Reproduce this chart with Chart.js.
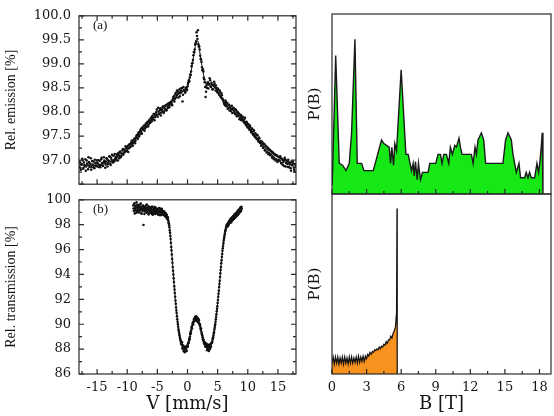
<!DOCTYPE html>
<html>
<head>
<meta charset="utf-8">
<script src="https://cdn.jsdelivr.net/npm/chart.js@4.4.0/dist/chart.umd.min.js"></script>
<style>
	body { margin: 0; background: #fff; }
	#wrap { position: relative; width: 554px; height: 416px; overflow: hidden; background: #fff; }
	#wrap canvas { position: absolute; }
</style>
</head>
<body>
<div id="wrap">
	<canvas id="chart-a" width="300" height="200" style="left:0;top:0;"></canvas>
	<canvas id="chart-b" width="300" height="232" style="left:0;top:184px;"></canvas>
	<canvas id="chart-c" width="254" height="200" style="left:300px;top:0;"></canvas>
	<canvas id="chart-d" width="254" height="232" style="left:300px;top:184px;"></canvas>
</div>
<script>
// (a) emission spectrum, two halves: channels from -18 and from -17.925 mm/s, 0.15 mm/s apart
const velStartA = -18;
const velStartA2 = -17.925;
const velStepA = 0.15;
const emissionA = [
	96.86, 96.95, 96.80, 96.92, 96.99, 96.84, 96.90, 97.02, 96.87, 96.93, 96.81, 96.96, 96.89, 97.04, 96.85, 96.91, 96.97, 96.83, 96.94, 96.88, 97.00,
	96.93, 96.86, 96.98, 96.90, 97.05, 96.89, 96.95, 96.99, 96.84, 96.97, 97.03, 96.92, 96.98, 97.07, 96.90, 97.01, 96.96, 97.09, 96.97, 97.03,
	97.05, 97.12, 96.99, 97.10, 97.16, 97.06, 97.14, 97.20, 97.11, 97.22, 97.17, 97.26, 97.19, 97.30, 97.24, 97.33, 97.28, 97.38, 97.31, 97.36,
	97.43, 97.35, 97.47, 97.52, 97.44, 97.58, 97.53, 97.62, 97.57, 97.68, 97.63, 97.72, 97.66, 97.76, 97.71, 97.80, 97.74, 97.84, 97.79, 97.86,
	97.92, 97.85, 97.95, 97.89, 97.98, 98.05, 97.90, 98.01, 97.96, 98.08, 97.99, 98.03, 98.12, 98.00, 98.07, 98.14, 98.04, 98.11, 98.18, 98.10,
	98.17, 98.22, 98.14, 98.28, 98.33, 98.27, 98.40, 98.35, 98.43, 98.30, 98.47, 98.39, 98.44, 98.50, 98.36, 98.46, 98.42, 98.49, 98.45, 98.53,
	98.62, 98.64, 98.78, 98.84, 99.01, 99.08, 99.25, 99.30, 99.43, 99.66, 99.52, 99.41, 99.36, 99.17, 99.09, 98.93, 98.89, 98.71, 98.62, 98.31,
	98.55, 98.60, 98.49, 98.58, 98.66, 98.52, 98.57, 98.48, 98.54, 98.59, 98.45, 98.50, 98.41, 98.47, 98.36, 98.42, 98.30, 98.35, 98.26, 98.21,
	98.18, 98.24, 98.12, 98.19, 98.08, 98.15, 98.10, 98.02, 98.13, 98.05, 98.09, 97.98, 98.06, 97.95, 98.01, 97.92, 97.97, 97.88, 97.94, 97.86,
	97.90, 97.81, 97.86, 97.76, 97.80, 97.70, 97.75, 97.66, 97.72, 97.61, 97.64, 97.55, 97.60, 97.50, 97.56, 97.46, 97.51, 97.42, 97.47, 97.37,
	97.40, 97.31, 97.36, 97.27, 97.33, 97.22, 97.29, 97.18, 97.25, 97.15, 97.21, 97.12, 97.18, 97.08, 97.14, 97.05, 97.11, 97.02, 97.09, 97.00,
	97.06, 96.98, 97.04, 96.93, 97.01, 96.96, 96.88, 97.02, 96.94, 96.99, 96.86, 96.95, 96.91, 96.83, 96.97, 96.89, 96.93, 96.80, 96.92, 96.86
];
const emissionA2 = [
	96.97, 96.84, 96.91, 97.03, 96.82, 96.95, 96.88, 96.78, 96.99, 96.92, 97.06, 96.86, 96.93, 96.80, 96.98, 96.90, 96.85, 97.01, 96.89, 96.95, 96.87,
	97.00, 96.90, 96.85, 97.02, 96.94, 96.88, 97.06, 96.96, 96.91, 97.04, 96.87, 96.99, 97.08, 96.93, 97.05, 97.11, 96.95, 97.00, 97.13, 97.07,
	97.00, 97.09, 97.15, 97.04, 97.18, 97.08, 97.13, 97.23, 97.15, 97.19, 97.29, 97.21, 97.26, 97.17, 97.32, 97.27, 97.35, 97.41, 97.30, 97.39,
	97.45, 97.40, 97.50, 97.46, 97.55, 97.49, 97.60, 97.65, 97.55, 97.66, 97.70, 97.61, 97.73, 97.69, 97.78, 97.70, 97.82, 97.77, 97.88, 97.81,
	97.89, 97.96, 97.83, 97.93, 98.00, 97.94, 98.09, 97.97, 98.04, 97.93, 98.06, 98.10, 97.98, 98.08, 98.13, 98.03, 98.16, 98.09, 98.14, 98.20,
	98.20, 98.16, 98.25, 98.31, 98.22, 98.37, 98.30, 98.45, 98.38, 98.41, 98.33, 98.49, 98.42, 98.22, 98.52, 98.44, 98.40, 98.51, 98.47, 98.58,
	98.66, 98.72, 98.77, 98.95, 99.02, 99.18, 99.24, 99.40, 99.47, 99.58, 99.70, 99.36, 99.30, 99.10, 99.04, 98.87, 98.84, 98.68, 98.52, 98.42,
	98.50, 98.62, 98.57, 98.70, 98.53, 98.61, 98.47, 98.56, 98.63, 98.51, 98.55, 98.44, 98.49, 98.38, 98.45, 98.33, 98.39, 98.28, 98.24, 98.17,
	98.14, 98.21, 98.17, 98.07, 98.14, 98.03, 98.11, 98.06, 97.98, 98.08, 98.01, 97.96, 98.04, 97.91, 97.99, 97.94, 97.85, 97.93, 97.83, 97.90,
	97.84, 97.78, 97.88, 97.73, 97.79, 97.68, 97.74, 97.63, 97.69, 97.58, 97.66, 97.53, 97.62, 97.48, 97.54, 97.44, 97.52, 97.39, 97.45, 97.35,
	97.30, 97.38, 97.25, 97.34, 97.20, 97.30, 97.16, 97.26, 97.12, 97.22, 97.10, 97.19, 97.05, 97.16, 97.02, 97.12, 96.99, 97.10, 96.96, 97.07,
	97.00, 97.08, 96.94, 97.03, 96.90, 96.99, 97.05, 96.87, 96.96, 96.92, 97.01, 96.85, 96.94, 96.78, 96.90, 96.97, 96.84, 96.76, 96.88
];
const fitVelA = [-18, -16, -14, -13, -12, -11, -10, -9, -8, -7, -6, -5, -4, -3, -2, -1.5, -1, -0.5, 0, 0.5, 1.0, 1.4, 1.7, 2.0, 2.4, 2.8, 3.2, 3.7, 4.3, 4.8, 5.3, 6, 6.5, 7.5, 8.5, 9.5, 10.5, 11.5, 12.5, 13.5, 14.5, 15.5, 16.5, 17.5, 18];
const fitA = [96.90, 96.89, 96.92, 96.96, 97.02, 97.10, 97.22, 97.36, 97.53, 97.70, 97.84, 97.94, 98.02, 98.12, 98.28, 98.37, 98.42, 98.46, 98.53, 98.78, 99.15, 99.42, 99.48, 99.28, 98.96, 98.70, 98.56, 98.57, 98.54, 98.47, 98.37, 98.22, 98.13, 98.04, 97.95, 97.81, 97.63, 97.46, 97.31, 97.20, 97.11, 97.04, 96.98, 96.93, 96.91];
const emissionTicks = [97.0, 97.5, 98.0, 98.5, 99.0, 99.5, 100.0];

// (b) transmission spectrum, two halves: channels from -9 and from -8.95 mm/s, 0.1 mm/s apart
const velStartB = -9;
const velStartB2 = -8.95;
const velStepB = 0.1;
const transmissionB = [
	99.55, 99.10, 99.72, 99.28, 99.40, 98.95, 99.60, 99.18, 99.45, 99.05,
	99.38, 99.62, 99.15, 99.30, 98.88, 99.50, 99.22, 97.98, 99.42, 99.08,
	99.25, 99.55, 98.95, 99.35, 99.12, 99.48, 98.90, 99.28, 99.40, 99.02,
	99.18, 98.85, 99.45, 99.05, 99.30, 98.92, 99.20, 99.38, 98.98, 99.12,
	98.90, 99.25, 98.80, 99.10, 99.32, 98.95, 99.05, 98.78, 99.15, 98.88,
	99.02, 98.85, 98.95, 98.70, 98.90, 98.75, 98.62, 98.50, 98.35, 98.10,
	97.80, 97.35, 96.85, 96.20, 95.60, 94.95, 94.30, 93.70, 93.05, 92.50,
	91.90, 91.35, 90.90, 90.40, 90.00, 89.60, 89.30, 89.05, 88.80, 88.60,
	88.40, 88.55, 88.15, 88.30, 87.95, 88.20, 87.80, 88.10, 87.90, 88.15,
	88.30, 88.45, 88.55, 88.85, 89.00, 89.35, 89.50, 89.80, 89.90, 90.15,
	90.20, 90.45, 90.30, 90.60, 90.40, 90.55, 90.35, 90.50, 90.20, 90.30,
	89.95, 89.85, 89.55, 89.40, 89.15, 88.95, 88.80, 88.60, 88.50, 88.35,
	88.40, 88.20, 88.30, 88.05, 88.35, 87.95, 88.25, 88.10, 88.40, 88.20,
	88.50, 88.60, 88.85, 89.10, 89.35, 89.70, 90.00, 90.40, 90.80, 91.25,
	91.70, 92.20, 92.70, 93.25, 93.80, 94.35, 94.90, 95.40, 95.90, 96.30,
	96.70, 97.00, 97.30, 97.55, 97.75, 97.95, 98.05, 97.90, 98.20, 98.10,
	98.35, 98.15, 98.50, 98.30, 98.60, 98.40, 98.70, 98.45, 98.80, 98.55,
	98.85, 98.65, 99.00, 98.75, 99.10, 98.90, 99.25, 99.00, 99.40, 99.15, 99.30
];
const transmissionB2 = [
	99.30, 99.65, 98.90, 99.48, 99.15, 99.80, 99.02, 99.35, 99.58, 98.98,
	99.20, 99.45, 99.70, 98.92, 99.33, 99.10, 99.55, 99.25, 98.85, 99.40,
	99.05, 99.30, 99.62, 99.00, 99.22, 98.82, 99.38, 99.12, 98.95, 99.30,
	99.45, 99.00, 98.80, 99.25, 99.10, 99.42, 98.85, 99.05, 99.28, 98.92,
	99.15, 98.82, 99.35, 98.98, 98.75, 99.20, 99.00, 99.28, 98.85, 99.10,
	98.78, 99.05, 98.70, 98.92, 98.58, 98.80, 98.45, 98.60, 98.20, 97.95,
	97.55, 97.10, 96.55, 95.95, 95.25, 94.60, 94.00, 93.40, 92.80, 92.20,
	91.65, 91.10, 90.65, 90.20, 89.80, 89.45, 89.15, 88.90, 88.70, 88.45,
	88.35, 88.05, 88.25, 87.85, 88.15, 87.75, 88.05, 88.20, 87.85, 88.30,
	88.20, 88.50, 88.70, 88.80, 89.20, 89.25, 89.70, 89.65, 90.05, 90.00,
	90.35, 90.25, 90.55, 90.35, 90.65, 90.25, 90.45, 90.15, 90.40, 90.05,
	90.00, 89.70, 89.65, 89.25, 89.10, 88.80, 88.70, 88.45, 88.55, 88.20,
	88.25, 88.45, 87.90, 88.20, 88.15, 87.85, 88.35, 88.00, 88.25, 88.45,
	88.55, 88.75, 88.95, 89.25, 89.55, 89.85, 90.20, 90.60, 91.05, 91.45,
	91.95, 92.45, 93.00, 93.50, 94.10, 94.60, 95.15, 95.65, 96.10, 96.50,
	96.85, 97.15, 97.45, 97.65, 97.85, 98.00, 97.85, 98.15, 98.00, 98.30,
	98.25, 98.45, 98.20, 98.55, 98.35, 98.65, 98.50, 98.80, 98.60, 98.90,
	98.70, 98.95, 98.80, 99.15, 98.85, 99.20, 99.05, 99.35, 99.10, 99.45
];
const fitVelB = [-9.0, -7, -5, -4, -3.5, -3.2, -3.0, -2.8, -2.6, -2.4, -2.2, -2.0, -1.8, -1.6, -1.4, -1.2, -1.0, -0.7, -0.4, -0.1, 0.2, 0.5, 0.8, 1.1, 1.4, 1.7, 2.0, 2.3, 2.6, 2.9, 3.2, 3.5, 3.8, 4.1, 4.4, 4.7, 5.0, 5.3, 5.6, 5.9, 6.2, 6.5, 7.0, 7.5, 8.0, 8.5, 9.0];
const fitB = [99.30, 99.18, 99.02, 98.95, 98.78, 98.40, 97.80, 96.80, 95.60, 94.35, 93.10, 91.95, 90.95, 90.05, 89.35, 88.85, 88.50, 88.15, 88.02, 88.10, 88.55, 89.25, 89.90, 90.30, 90.45, 90.35, 90.00, 89.45, 88.90, 88.50, 88.28, 88.20, 88.30, 88.65, 89.35, 90.40, 91.70, 93.25, 94.90, 96.30, 97.30, 97.90, 98.35, 98.60, 98.85, 99.05, 99.25];
const transmissionTicks = [86, 88, 90, 92, 94, 96, 98, 100];
const velTicks = [-15, -10, -5, 0, 5, 10, 15];

// field distributions P(B)
const bGreen = [0.02, 0.32, 0.63, 0.92, 1.21, 1.50, 1.70, 1.99, 2.19, 2.57, 2.77, 3.58, 4.30, 4.50, 4.96, 5.08, 5.19, 5.34, 5.45, 5.60, 6.00, 6.41, 6.61, 6.90, 7.04, 7.13, 7.24, 7.39, 7.50, 7.68, 7.85, 8.34, 8.48, 9.00, 9.20, 9.41, 9.55, 9.70, 9.93, 10.13, 10.27, 10.45, 10.65, 10.79, 11.02, 11.14, 11.28, 12.09, 12.24, 12.41, 12.53, 12.67, 12.96, 13.16, 13.33, 14.83, 15.06, 15.27, 15.56, 15.70, 15.99, 16.22, 16.36, 16.71, 16.85, 17.00, 17.14, 17.29, 17.58, 17.78, 17.92, 18.04, 18.15, 18.24, 18.30];
const pGreen = [0.05, 0.77, 0.17, 0.16, 0.13, 0.17, 0.34, 0.86, 0.17, 0.17, 0.13, 0.13, 0.30, 0.28, 0.26, 0.17, 0.26, 0.16, 0.28, 0.24, 0.69, 0.22, 0.22, 0.13, 0.17, 0.10, 0.18, 0.08, 0.17, 0.08, 0.12, 0.12, 0.17, 0.17, 0.22, 0.22, 0.17, 0.22, 0.22, 0.17, 0.26, 0.22, 0.27, 0.26, 0.31, 0.26, 0.22, 0.22, 0.17, 0.26, 0.22, 0.30, 0.34, 0.30, 0.17, 0.17, 0.30, 0.34, 0.30, 0.22, 0.12, 0.17, 0.09, 0.09, 0.12, 0.09, 0.12, 0.09, 0.09, 0.17, 0.12, 0.18, 0.26, 0.34, 0.0];
const bOrange = [0.0, 0.1, 0.2, 0.3, 0.4, 0.5, 0.6, 0.7, 0.8, 0.9, 1.0, 1.1, 1.2, 1.3, 1.4, 1.5, 1.6, 1.7, 1.8, 1.9, 2.0, 2.1, 2.2, 2.3, 2.4, 2.5, 2.6, 2.7, 2.8, 2.9, 3.0, 3.1, 3.2, 3.3, 3.4, 3.5, 3.6, 3.7, 3.8, 3.9, 4.0, 4.1, 4.2, 4.3, 4.4, 4.5, 4.6, 4.7, 4.8, 4.9, 5.0, 5.1, 5.2, 5.3, 5.4, 5.5, 5.6, 5.64, 5.66];
const pOrange = [0.06, 0.095, 0.055, 0.095, 0.06, 0.095, 0.055, 0.09, 0.06, 0.095, 0.055, 0.095, 0.06, 0.09, 0.055, 0.095, 0.06, 0.095, 0.06, 0.09, 0.065, 0.095, 0.06, 0.10, 0.065, 0.095, 0.07, 0.10, 0.07, 0.10, 0.085, 0.11, 0.10, 0.12, 0.11, 0.125, 0.12, 0.135, 0.13, 0.14, 0.135, 0.15, 0.14, 0.155, 0.15, 0.165, 0.16, 0.18, 0.17, 0.19, 0.19, 0.21, 0.20, 0.225, 0.24, 0.26, 0.34, 0.92, 0.0];
const fieldTicks = [0, 3, 6, 9, 12, 15, 18];

const inkColor = '#151515';
const tickFont = { family: 'DejaVu Serif', size: 13 };
const sideTitleFont = { family: 'Liberation Serif', size: 14 };

function toPoints(xs, ys) {
	return xs.map(function(x, i) { return { x: x, y: ys[i] }; });
}

function channelPoints(start, step, ys) {
	return ys.map(function(y, i) { return { x: start + i * step, y: y }; });
}

function fixedTicks(values) {
	return function(scale) {
		scale.ticks = values.map(function(v) { return { value: v }; });
	};
}

// frame around the plot area plus inward tick marks, and the panel tag
const frameTicks = {
	id: 'frameTicks',
	afterDraw: function(chart, args, opts) {
		const ctx = chart.ctx;
		const area = chart.chartArea;
		ctx.save();
		ctx.strokeStyle = '#2a2a2a';
		ctx.lineWidth = 1.2;
		ctx.beginPath();

		function marks(scale, major, minor, draw) {
			const first = Math.ceil(scale.min / minor - 1e-6);
			const last = Math.floor(scale.max / minor + 1e-6);
			for (let k = first; k <= last; k++) {
				const v = k * minor;
				const isMajor = Math.abs(v / major - Math.round(v / major)) < 1e-6;
				draw(scale.getPixelForValue(v), isMajor ? 5 : 3);
			}
		}

		(opts.xSides || []).forEach(function(side) {
			marks(chart.scales.x, opts.xMajor, opts.xMinor, function(p, len) {
				if (side === 'bottom') {
					ctx.moveTo(p, area.bottom); ctx.lineTo(p, area.bottom - len);
				} else {
					ctx.moveTo(p, area.top); ctx.lineTo(p, area.top + len);
				}
			});
		});
		(opts.ySides || []).forEach(function(side) {
			marks(chart.scales.y, opts.yMajor, opts.yMinor, function(p, len) {
				if (side === 'left') {
					ctx.moveTo(area.left, p); ctx.lineTo(area.left + len, p);
				} else {
					ctx.moveTo(area.right, p); ctx.lineTo(area.right - len, p);
				}
			});
		});
		ctx.stroke();
		ctx.strokeRect(area.left, area.top, area.right - area.left, area.bottom - area.top);

		if (opts.tag) {
			ctx.fillStyle = inkColor;
			ctx.font = '13px "Liberation Serif"';
			ctx.textBaseline = 'middle';
			ctx.fillText(opts.tag, area.left + 14, area.top + 10);
		}
		ctx.restore();
	}
};

function baseOptions(padding) {
	return {
		responsive: false,
		animation: false,
		events: [],
		layout: { padding: padding },
		plugins: { legend: { display: false }, tooltip: { enabled: false } }
	};
}

function dots(points) {
	return { data: points, backgroundColor: '#111', borderWidth: 0, pointRadius: 1.25 };
}

function fitLine(points) {
	return { data: points, showLine: true, borderColor: '#111', borderWidth: 1, pointRadius: 0, cubicInterpolationMode: 'monotone' };
}

document.addEventListener('DOMContentLoaded', function() {
	// (a) emission
	const optA = baseOptions({ top: 15, right: 3, bottom: 6, left: 0 });
	optA.plugins.frameTicks = { xSides: ['bottom', 'top'], xMajor: 5, xMinor: 2.5, ySides: ['left', 'right'], yMajor: 0.5, yMinor: 0.25, tag: '(a)' };
	optA.scales = {
		x: {
			type: 'linear', min: -18, max: 18,
			grid: { display: false }, border: { display: false },
			ticks: { display: false },
			afterFit: function(scale) { scale.height = 0; }
		},
		y: {
			min: 96.5, max: 100,
			grid: { display: false, drawTicks: false }, border: { display: false },
			afterBuildTicks: fixedTicks(emissionTicks),
			ticks: { font: tickFont, color: inkColor, padding: 8, autoSkip: false, callback: function(v) { return v.toFixed(1); } },
			title: { display: true, text: 'Rel. emission [%]', font: sideTitleFont, color: inkColor, padding: { top: 3, bottom: 0 } },
			afterFit: function(scale) { scale.width = 79; }
		}
	};
	new Chart(document.getElementById('chart-a'), {
		type: 'scatter',
		data: {
			datasets: [
				fitLine(toPoints(fitVelA, fitA)),
				dots(channelPoints(velStartA, velStepA, emissionA)),
				dots(channelPoints(velStartA2, velStepA, emissionA2))
			]
		},
		options: optA,
		plugins: [frameTicks]
	});

	// (b) transmission
	const optB = baseOptions({ top: 10, right: 3, bottom: 0, left: 0 });
	optB.plugins.frameTicks = { xSides: ['bottom'], xMajor: 5, xMinor: 2.5, ySides: ['left', 'right'], yMajor: 2, yMinor: 1, tag: '(b)' };
	optB.scales = {
		x: {
			type: 'linear', min: -18, max: 18,
			grid: { display: false, drawTicks: false }, border: { display: false },
			afterBuildTicks: fixedTicks(velTicks),
			ticks: { font: tickFont, color: inkColor, padding: 6, autoSkip: false, maxRotation: 0 },
			title: { display: true, text: 'V [mm/s]', font: { family: 'DejaVu Serif', size: 18 }, color: inkColor, padding: { top: 0, bottom: 1 } },
			afterFit: function(scale) { scale.height = 42; }
		},
		y: {
			min: 86, max: 100,
			grid: { display: false, drawTicks: false }, border: { display: false },
			afterBuildTicks: fixedTicks(transmissionTicks),
			ticks: { font: tickFont, color: inkColor, padding: 8, autoSkip: false },
			title: { display: true, text: 'Rel. transmission [%]', font: sideTitleFont, color: inkColor, padding: { top: 3, bottom: 0 } },
			afterFit: function(scale) { scale.width = 79; }
		}
	};
	new Chart(document.getElementById('chart-b'), {
		type: 'scatter',
		data: {
			datasets: [
				fitLine(toPoints(fitVelB, fitB)),
				dots(channelPoints(velStartB, velStepB, transmissionB)),
				dots(channelPoints(velStartB2, velStepB, transmissionB2))
			]
		},
		options: optB,
		plugins: [frameTicks]
	});

	// P(B) green
	const optC = baseOptions({ top: 14, right: 3, bottom: 6, left: 0 });
	optC.plugins.frameTicks = { xSides: ['bottom'], xMajor: 3, xMinor: 1.5 };
	optC.scales = {
		x: {
			type: 'linear', min: 0, max: 19,
			grid: { display: false }, border: { display: false },
			ticks: { display: false },
			afterFit: function(scale) { scale.height = 0; }
		},
		y: {
			min: 0, max: 1,
			grid: { display: false, drawTicks: false }, border: { display: false },
			ticks: { display: false },
			title: { display: true, text: 'P(B)', font: { family: 'DejaVu Serif', size: 15 }, color: inkColor, padding: { top: 6, bottom: 0 } },
			afterFit: function(scale) { scale.width = 32; }
		}
	};
	new Chart(document.getElementById('chart-c'), {
		type: 'line',
		data: {
			datasets: [
				{ data: toPoints(bGreen, pGreen), fill: 'origin', backgroundColor: '#16e816', borderColor: '#1a1a1a', borderWidth: 1.4, pointRadius: 0, tension: 0 }
			]
		},
		options: optC,
		plugins: [frameTicks]
	});

	// P(B) orange
	const optD = baseOptions({ top: 10, right: 3, bottom: 0, left: 0 });
	optD.plugins.frameTicks = { xSides: ['bottom'], xMajor: 3, xMinor: 1.5 };
	optD.scales = {
		x: {
			type: 'linear', min: 0, max: 19,
			grid: { display: false, drawTicks: false }, border: { display: false },
			afterBuildTicks: fixedTicks(fieldTicks),
			ticks: { font: tickFont, color: inkColor, padding: 6, autoSkip: false, maxRotation: 0 },
			title: { display: true, text: 'B [T]', font: { family: 'DejaVu Serif', size: 18 }, color: inkColor, padding: { top: 0, bottom: 1 } },
			afterFit: function(scale) { scale.height = 42; }
		},
		y: {
			min: 0, max: 1,
			grid: { display: false, drawTicks: false }, border: { display: false },
			ticks: { display: false },
			title: { display: true, text: 'P(B)', font: { family: 'DejaVu Serif', size: 15 }, color: inkColor, padding: { top: 6, bottom: 0 } },
			afterFit: function(scale) { scale.width = 32; }
		}
	};
	new Chart(document.getElementById('chart-d'), {
		type: 'line',
		data: {
			datasets: [
				{ data: toPoints(bOrange, pOrange), fill: 'origin', backgroundColor: '#f7921e', borderColor: '#111', borderWidth: 1.2, pointRadius: 0, tension: 0 }
			]
		},
		options: optD,
		plugins: [frameTicks]
	});
});
</script>
</body>
</html>
